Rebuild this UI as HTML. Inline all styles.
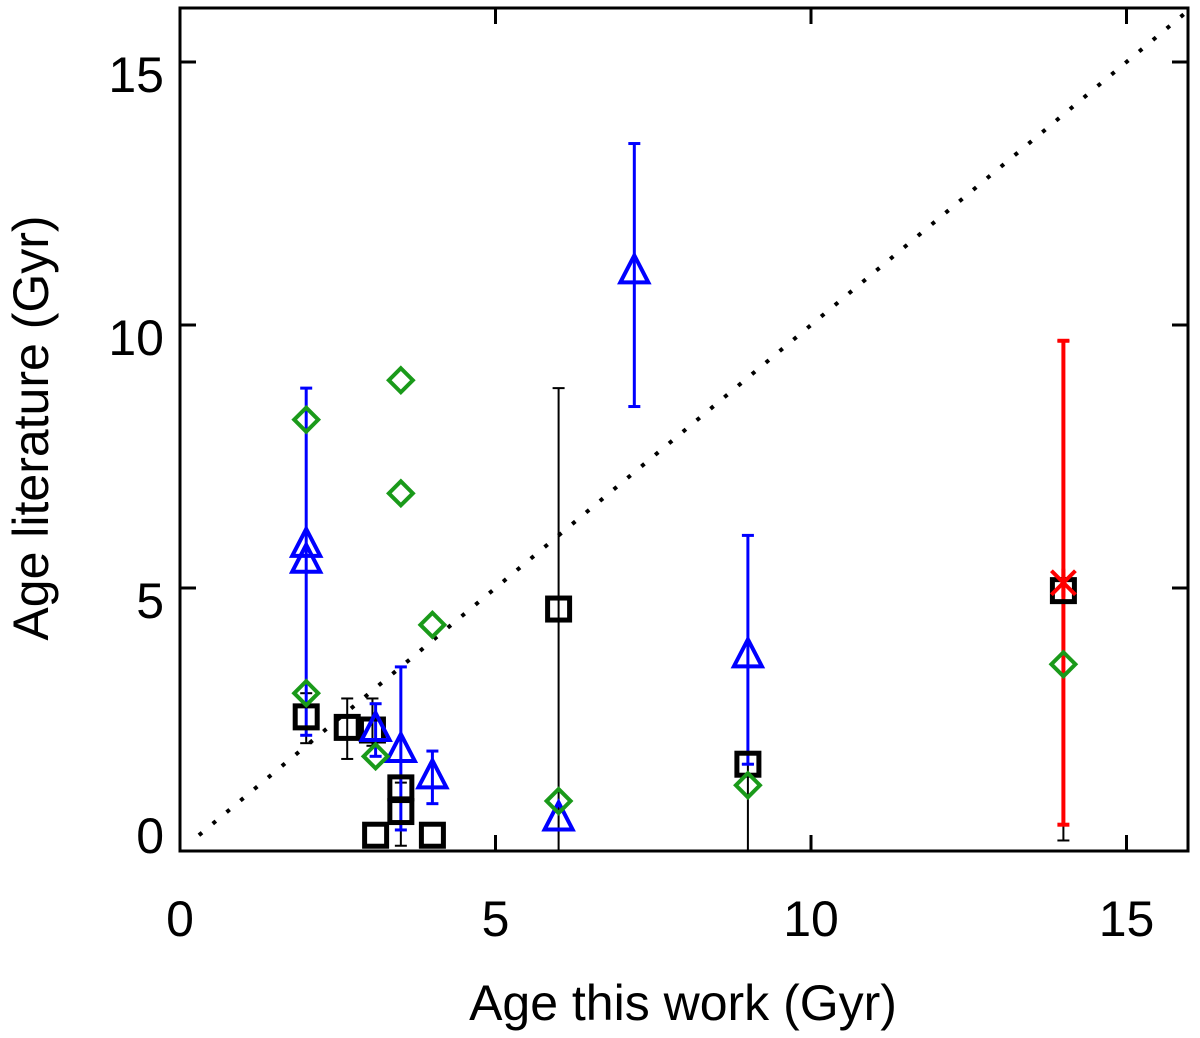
<!DOCTYPE html>
<html><head><meta charset="utf-8"><style>body{margin:0;background:#fff}svg{display:block}</style></head>
<body>
<svg id="chart" width="1200" height="1038" xmlns="http://www.w3.org/2000/svg" font-family="Liberation Sans, sans-serif">
</svg>
<script>
const xTicks=[0,5,10,15];
const yTicks=[0,5,10,15];
const sqX=[2.0,2.65,3.05,3.1,3.5,3.5,4.0,6.0,9.0,14.0];
const sqY=[2.55,2.35,2.3,0.3,1.2,0.75,0.3,4.6,1.65,4.95];
const sqLo=[2.05,1.75,2.0,null,null,0.1,null,0,0,0.2];
const sqHi=[3.0,2.9,2.9,null,null,1.3,null,8.8,1.65,9.7];
const triX=[2.0,2.0,3.1,3.5,4.0,6.0,7.2,9.0];
const triY=[5.8,5.5,2.3,1.9,1.4,0.6,11.0,3.7];
const triLo=[null,2.2,1.8,0.4,0.9,null,8.45,1.65];
const triHi=[null,8.8,2.8,3.5,1.9,null,13.45,6.0];
const diaX=[2,2,3.1,3.5,3.5,4.0,6,9,14];
const diaY=[8.2,3.0,1.8,8.95,6.8,4.3,0.95,1.25,3.55];
const starX=[14.0];const starY=[5.1];const starLo=[0.5];const starHi=[9.7];

const X0=180,X1=1188,Y0=851,Y1=8;
const sx=v=>X0+v*63.1, sy=v=>Y0-v*52.6;
const NS="http://www.w3.org/2000/svg";
const svg=document.getElementById('chart');
function mk(t,a,p){const e=document.createElementNS(NS,t);for(const k in a)e.setAttribute(k,a[k]);(p||svg).appendChild(e);return e;}

let e=mk('rect',{x:X0,y:Y1,width:X1-X0,height:Y0-Y1,fill:'none',stroke:'#000','stroke-width':3});


e=mk('line',{x1:sx(0.3),y1:sy(0.3),x2:sx(16),y2:sy(16),stroke:'#000','stroke-width':4,'stroke-dasharray':'4 14'});



xTicks.forEach(t=>{
 mk('line',{x1:sx(t),y1:Y0,x2:sx(t),y2:Y0-16,stroke:'#000','stroke-width':3});
 mk('line',{x1:sx(t),y1:Y1,x2:sx(t),y2:Y1+16,stroke:'#000','stroke-width':3});
 const l=mk('text',{x:sx(t),y:936,'font-size':50,'text-anchor':'middle'});l.textContent=t;
 
 
});
yTicks.forEach(t=>{
 mk('line',{x1:X0,y1:sy(t),x2:X0+16,y2:sy(t),stroke:'#000','stroke-width':3});
 mk('line',{x1:X1,y1:sy(t),x2:X1-16,y2:sy(t),stroke:'#000','stroke-width':3});
 const l=mk('text',{x:164,y:t===0?853:sy(t)+30,'font-size':50,'text-anchor':'end'});l.textContent=t;
 
 
});
let tl=mk('text',{x:683,y:1020,'font-size':50,'text-anchor':'middle'});tl.textContent='Age this work (Gyr)';


tl=mk('text',{x:0,y:0,'font-size':50,'text-anchor':'middle',transform:'translate(48,428) rotate(-90)'});tl.textContent='Age literature (Gyr)';



function err(x,lo,hi,c,w){
 if(lo==null)return;
 const g=mk('g',{stroke:c,'stroke-width':w});
 
 
 mk('line',{x1:sx(x),y1:sy(lo),x2:sx(x),y2:sy(hi)},g);
 mk('line',{x1:sx(x)-6,y1:sy(lo),x2:sx(x)+6,y2:sy(lo)},g);
 mk('line',{x1:sx(x)-6,y1:sy(hi),x2:sx(x)+6,y2:sy(hi)},g);
}
sqX.forEach((x,i)=>err(x,sqLo[i],sqHi[i],'#000',2));
triX.forEach((x,i)=>err(x,triLo[i],triHi[i],'#00f',3));
starX.forEach((x,i)=>err(x,starLo[i],starHi[i],'#f00',4));

sqX.forEach((x,i)=>{const r=mk('rect',{x:sx(x)-11,y:sy(sqY[i])-11,width:22,height:22,fill:'none',stroke:'#000','stroke-width':5});
 
 });
triX.forEach((x,i)=>{const cx=sx(x),cy=sy(triY[i]);const p=mk('polygon',{points:`${cx},${cy-17} ${cx-14},${cy+10} ${cx+14},${cy+10}`,fill:'none',stroke:'#00f','stroke-width':4});
 
 });
diaX.forEach((x,i)=>{const cx=sx(x),cy=sy(diaY[i]);const p=mk('polygon',{points:`${cx},${cy-12} ${cx+12},${cy} ${cx},${cy+12} ${cx-12},${cy}`,fill:'none',stroke:'#1a9a1a','stroke-width':4});
 
 });
starX.forEach((x,i)=>{const cx=sx(x),cy=sy(starY[i]);const g=mk('g',{stroke:'#f00','stroke-width':4});
 
 
 mk('line',{x1:cx-12,y1:cy-12,x2:cx+12,y2:cy+12},g);mk('line',{x1:cx-12,y1:cy+12,x2:cx+12,y2:cy-12},g);mk('line',{x1:cx,y1:cy-14,x2:cx,y2:cy+14},g);});
</script>
</body></html>
